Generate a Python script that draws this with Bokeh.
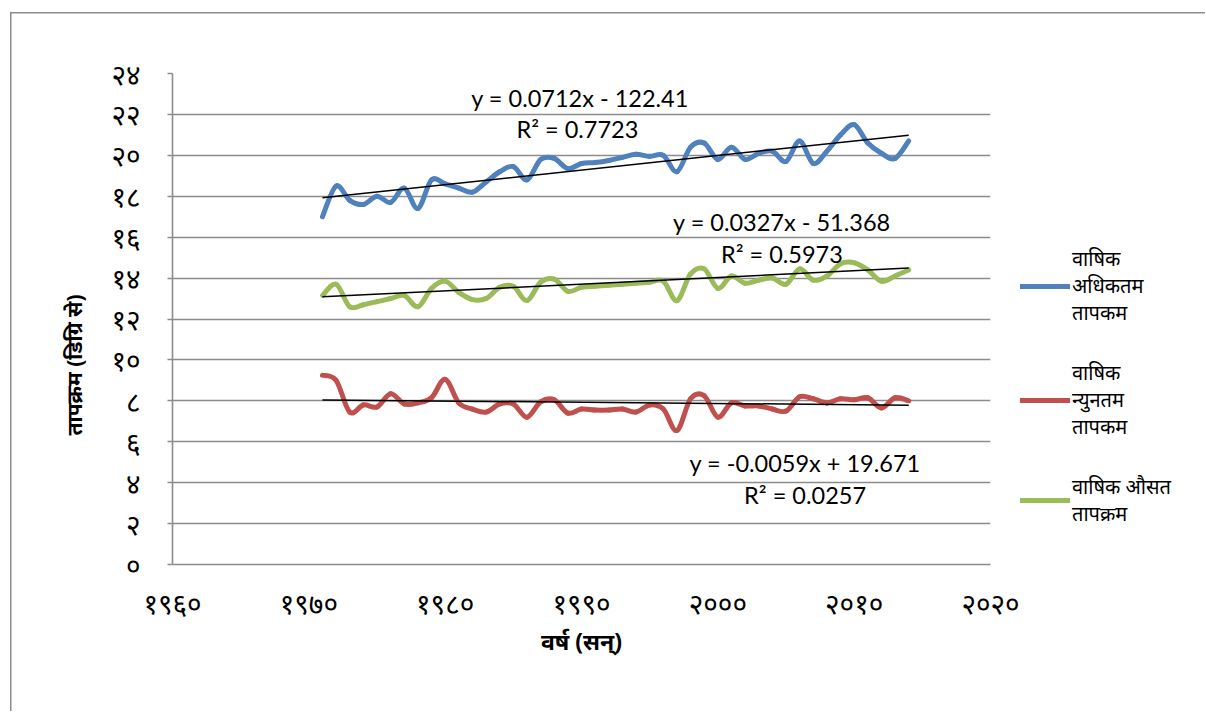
import math
from bokeh.plotting import figure
from bokeh.layouts import row
from bokeh.models import Label, Legend, LegendItem, FixedTicker, Range1d, Title
from bokeh.embed import file_html
from bokeh.resources import INLINE

# ---------------- data ----------------
years = [1971, 1972, 1973, 1974, 1975, 1976, 1977, 1978, 1979, 1980,
         1981, 1982, 1983, 1984, 1985, 1986, 1987, 1988, 1989, 1990,
         1991, 1992, 1993, 1994, 1995, 1996, 1997, 1998, 1999, 2000,
         2001, 2002, 2003, 2004, 2005, 2006, 2007, 2008, 2009, 2010,
         2011, 2012, 2013, 2014]

t_max = [17.0, 18.5, 17.8, 17.6, 18.0, 17.7, 18.4, 17.4, 18.8, 18.6,
         18.4, 18.2, 18.7, 19.2, 19.45, 18.8, 19.8, 19.85, 19.35, 19.6,
         19.65, 19.75, 19.9, 20.05, 19.95, 20.0, 19.2, 20.4, 20.6, 19.8,
         20.4, 19.8, 20.1, 20.2, 19.7, 20.7, 19.6, 20.2, 21.0, 21.5,
         20.6, 20.1, 19.85, 20.7]

t_min = [9.25, 9.0, 7.45, 7.8, 7.7, 8.35, 7.85, 7.9, 8.15, 9.05,
         7.9, 7.6, 7.45, 7.85, 7.85, 7.2, 7.95, 8.05, 7.4, 7.6,
         7.55, 7.55, 7.6, 7.45, 7.8, 7.6, 6.55, 8.1, 8.25, 7.2,
         7.9, 7.75, 7.75, 7.6, 7.5, 8.2, 8.1, 7.9, 8.1, 8.05,
         8.15, 7.65, 8.15, 8.0]

t_avg = [13.15, 13.7, 12.6, 12.7, 12.85, 13.0, 13.15, 12.6, 13.5, 13.85,
         13.3, 12.95, 13.0, 13.55, 13.6, 12.9, 13.8, 13.95, 13.35, 13.55,
         13.6, 13.65, 13.7, 13.75, 13.8, 13.85, 12.9, 14.2, 14.45, 13.5,
         14.1, 13.75, 13.9, 14.0, 13.7, 14.45, 13.9, 14.1, 14.7, 14.75,
         14.4, 13.85, 14.1, 14.4]

series_names = ["वाषिक\nअधिकतम\nतापकम", "वाषिक\nन्युनतम\nतापकम", "वाषिक औसत\nतापक्रम"]
series_colors = ["#4F81BD", "#C0504D", "#9BBB59"]

# trend line coefficients (slope, intercept) and labels as printed
trend_coef = [(0.0712, -122.41), (-0.0059, 19.671), (0.0327, -51.368)]
trend_eq = ["y = 0.0712x - 122.41", "y = -0.0059x + 19.671", "y = 0.0327x - 51.368"]
trend_r2 = ["R² = 0.7723", "R² = 0.0257", "R² = 0.5973"]
# label anchor (year, value) for equation and R² lines
eq_pos = [(1989.9, 22.82), (2006.4, 4.94), (2004.7, 16.72)]
r2_pos = [(1989.7, 21.31), (2006.4, 3.42), (2004.7, 15.2)]

x_ticks = [1960, 1970, 1980, 1990, 2000, 2010, 2020]
x_tick_labels = ["१९६०", "१९७०", "१९८०", "१९९०", "२०००", "२०१०", "२०२०"]
y_ticks = [0, 2, 4, 6, 8, 10, 12, 14, 16, 18, 20, 22, 24]
y_tick_labels = ["०", "२", "४", "६", "८", "१०", "१२", "१४", "१६", "१८", "२०", "२२", "२४"]

x_title = "वर्ष (सन्)"
y_title = "तापक्रम (डिग्रि से)"

DEV_FONT = "Noto Sans"
NUM_FONT = "Lato"
GRID = "#8c8c8c"

# ---------------- main figure ----------------
W, H = 1020, 711
p = figure(width=W, height=H, output_backend="svg", toolbar_location=None,
           x_range=Range1d(1960, 2020), y_range=Range1d(0, 24),
           min_border_left=172, min_border_right=W - 990,
           min_border_top=73, min_border_bottom=H - 564)
p.outline_line_color = None
p.background_fill_color = "white"
p.border_fill_alpha = 0

p.xgrid.visible = False
p.ygrid.ticker = FixedTicker(ticks=y_ticks)
p.ygrid.grid_line_color = GRID
p.ygrid.grid_line_width = 1.6

p.yaxis.ticker = FixedTicker(ticks=y_ticks)
p.yaxis.major_label_overrides = dict(zip(y_ticks, y_tick_labels))
p.yaxis.axis_line_color = GRID
p.yaxis.axis_line_width = 1.6
p.yaxis.major_tick_line_color = GRID
p.yaxis.major_tick_line_width = 1.6
p.yaxis.major_tick_out = 5
p.yaxis.major_tick_in = 0
p.yaxis.minor_tick_line_color = None
p.yaxis.major_label_standoff = 27
p.yaxis.major_label_text_font = DEV_FONT
p.yaxis.major_label_text_font_size = "28px"
p.yaxis.major_label_text_color = "black"

p.xaxis.ticker = FixedTicker(ticks=x_ticks)
p.xaxis.major_label_overrides = dict(zip(x_ticks, x_tick_labels))
p.xaxis.axis_line_color = GRID
p.xaxis.axis_line_width = 1.6
p.xaxis.major_tick_line_color = None
p.xaxis.minor_tick_line_color = None
p.xaxis.major_label_standoff = 13
p.xaxis.major_label_text_font = DEV_FONT
p.xaxis.major_label_text_font_size = "28px"
p.xaxis.major_label_text_color = "black"
p.xaxis.axis_label = x_title
p.xaxis.axis_label_text_font = DEV_FONT
p.xaxis.axis_label_text_font_style = "bold"
p.xaxis.axis_label_text_font_size = "23px"
p.xaxis.axis_label_standoff = 0
p.xaxis.axis_label_text_color = "black"


def smooth_segments(xs, ys):
    """Bezier control points (Excel-style smoothed line) through the data points."""
    n = len(xs)
    seg = dict(x0=[], y0=[], x1=[], y1=[], cx0=[], cy0=[], cx1=[], cy1=[])
    for i in range(n - 1):
        a = max(i - 1, 0)
        d = min(i + 2, n - 1)
        seg["x0"].append(xs[i]); seg["y0"].append(ys[i])
        seg["x1"].append(xs[i + 1]); seg["y1"].append(ys[i + 1])
        seg["cx0"].append(xs[i] + (xs[i + 1] - xs[a]) / 6.0)
        seg["cy0"].append(ys[i] + (ys[i + 1] - ys[a]) / 6.0)
        seg["cx1"].append(xs[i + 1] - (xs[d] - xs[i]) / 6.0)
        seg["cy1"].append(ys[i + 1] - (ys[d] - ys[i]) / 6.0)
    return seg


for vals, col in zip([t_max, t_min, t_avg], series_colors):
    seg = smooth_segments(years, vals)
    p.bezier(x0="x0", y0="y0", x1="x1", y1="y1", cx0="cx0", cy0="cy0",
             cx1="cx1", cy1="cy1", source=seg, line_color=col,
             line_width=5, line_cap="round")

# linear trend lines
for (a, b) in trend_coef:
    xs = [years[0], years[-1]]
    p.line(xs, [a * x + b for x in xs], line_color="black", line_width=1.5)

for txt, (lx, ly) in zip(trend_eq, eq_pos):
    p.add_layout(Label(x=lx, y=ly, text=txt, text_align="center", text_baseline="middle",
                       text_font=NUM_FONT, text_font_size="23.5px", text_color="black"))
for txt, (lx, ly) in zip(trend_r2, r2_pos):
    p.add_layout(Label(x=lx, y=ly, text=txt, text_align="center", text_baseline="middle",
                       text_font=NUM_FONT, text_font_size="23.5px", text_color="black"))

# y-axis title (sits lower than the frame centre, as in the original)
p.add_layout(Title(text=y_title, align="left", offset=129, standoff=42,
                   text_font=DEV_FONT, text_font_style="bold",
                   text_font_size="21px", text_color="black"), "left")

# ---------------- legend panel ----------------
LW = 1205 - W
q = figure(width=LW, height=H, output_backend="svg", toolbar_location=None,
           x_range=Range1d(0, 1), y_range=Range1d(0, 1), min_border=0)
q.axis.visible = False
q.grid.visible = False
q.outline_line_color = None
q.background_fill_alpha = 0
q.border_fill_alpha = 0

items = []
for vals, name, col in zip([t_max, t_min, t_avg], series_names, series_colors):
    # series drawn here only to carry the legend swatch (outside this panel's view)
    r = q.line(x=years, y=vals, line_color=col, line_width=5, line_cap="round")
    items.append(LegendItem(label=name, renderers=[r]))

legend = Legend(items=items, location=(0, 37), border_line_color=None,
                background_fill_alpha=0, label_text_font=DEV_FONT,
                label_text_font_size="20px", label_text_color="black",
                glyph_width=50, glyph_height=20, spacing=33, padding=0,
                label_standoff=2, margin=0)
q.add_layout(legend)

# light chart-area border (left and top edges, as visible in the original)
chart_box = {
    "background-color": "white",
    "background-image": "linear-gradient(#8c8c8c, #8c8c8c), linear-gradient(#8c8c8c, #8c8c8c)",
    "background-size": "1.5px 100%, 100% 1.5px",
    "background-position": "10px 12px, 10px 12px",
    "background-repeat": "no-repeat",
}
layout = row(p, q, styles=chart_box)

open("out.html", "w").write(file_html(layout, INLINE))
